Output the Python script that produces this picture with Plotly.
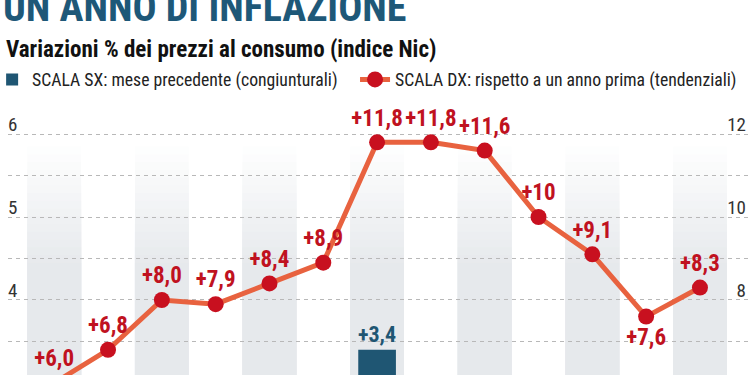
import plotly.graph_objects as go

# ---- data ----
months = ["apr 22", "mag 22", "giu 22", "lug 22", "ago 22", "set 22", "ott 22",
          "nov 22", "dic 22", "gen 23", "feb 23", "mar 23", "apr 23"]
mom_values = [0.2, 0.8, 1.2, 0.4, 0.8, 0.3, 3.4, 0.5, 0.3, -0.2, 0.2, -0.4, 0.4]
yoy_values = [6.0, 6.8, 8.0, 7.9, 8.4, 8.9, 11.8, 11.8, 11.6, 10.0, 9.1, 7.6, 8.3]
yoy_labels = ["+6,0", "+6,8", "+8,0", "+7,9", "+8,4", "+8,9", "+11,8",
              "+11,8", "+11,6", "+10", "+9,1", "+7,6", "+8,3"]
left_ticks = [3, 4, 5, 6]
right_ticks = [6, 8, 10, 12]

TITLE = "UN ANNO DI INFLAZIONE"
SUBTITLE = "Variazioni % dei prezzi al consumo (indice Nic)"
NAME_SX = "SCALA SX: mese precedente (congiunturali)"
NAME_DX = "SCALA DX: rispetto a un anno prima (tendenziali)"

NARROW = "Roboto Condensed, Roboto, sans-serif"
BLUE = "#1f5673"
LINE = "#e8623f"
RED = "#c8101f"
LABEL_RED = "#c0121f"

# the only label drawn under its point (the March 2023 trough)
LABEL_BELOW = {11}


def fmt(v):
    return f"{v:+.1f}".replace(".", ",")


fig = go.Figure()

fig.add_trace(go.Bar(
    x=months, y=mom_values, name=NAME_SX, yaxis="y", legend="legend",
    marker=dict(color=BLUE, line=dict(width=0)), width=0.7,
    text=[fmt(v) for v in mom_values], textposition="outside",
    textfont=dict(family=NARROW, size=22, color=BLUE, weight=700),
    constraintext="none", cliponaxis=True,
))

positions = ["bottom center" if i in LABEL_BELOW else "top center"
             for i in range(len(yoy_values))]
fig.add_trace(go.Scatter(
    x=months, y=yoy_values, name=NAME_DX, yaxis="y2", legend="legend2",
    mode="lines+markers+text",
    line=dict(color=LINE, width=5),
    marker=dict(color=RED, size=16),
    text=yoy_labels, textposition=positions,
    textfont=dict(family=NARROW, size=23, color=LABEL_RED, weight=700),
    cliponaxis=True,
))

# shaded alternate columns with a vertical fade (stepped gradient)
steps = 16
top_v, full_v = 5.85, 4.45
for i in range(0, len(months), 2):
    for k in range(steps):
        f = (k + 1) / steps
        r = round(255 - (255 - 0xe6) * f)
        g = round(255 - (255 - 0xe9) * f)
        b = round(255 - (255 - 0xec) * f)
        y0 = top_v - (top_v - full_v) * k / (steps - 1)
        fig.add_shape(type="rect", xref="x", yref="y",
                      x0=i - 0.5, x1=i + 0.5, y0=y0, y1=-2,
                      fillcolor=f"rgb({r},{g},{b})", line=dict(width=0),
                      layer="below")

legend_style = dict(orientation="h", xanchor="left", y=1.073, yanchor="middle",
                    font=dict(family=NARROW, size=17.7, color="#222"),
                    bgcolor="rgba(0,0,0,0)", itemclick=False, itemdoubleclick=False)

y_top, y_bot = 6.4096, 3.0963
fig.update_layout(
    width=750, height=375,
    margin=dict(l=8, r=0, t=100, b=0, autoexpand=False),
    paper_bgcolor="white", plot_bgcolor="white",
    showlegend=True,
    legend=dict(x=-0.0214, **legend_style),
    legend2=dict(x=0.4677, **legend_style),
    xaxis=dict(type="category", range=[-0.859, 12.93], showticklabels=False,
               showgrid=False, zeroline=False, showline=False, ticks="",
               automargin=False),
    yaxis=dict(range=[y_bot, y_top], tickvals=left_ticks, ticklabelposition="inside top",
               tickfont=dict(family=NARROW, size=19, color="#333"),
               ticklabelstandoff=-3, ticklabelshift=4, automargin=False,
               showgrid=True, gridcolor="#b8b8b8", griddash="4px,4px", gridwidth=1,
               minor=dict(dtick=0.5, showgrid=True, gridcolor="#b8b8b8",
                          griddash="4px,4px", gridwidth=1, tick0=0),
               zeroline=False, showline=False, ticks=""),
    yaxis2=dict(range=[2 * y_bot, 2 * y_top], tickvals=right_ticks, overlaying="y",
                side="right", ticklabelposition="inside top",
                tickfont=dict(family=NARROW, size=19, color="#333"),
                ticklabelstandoff=1, ticklabelshift=4, automargin=False,
                showgrid=False, zeroline=False, showline=False, ticks=""),
    annotations=[
        dict(text=f"<b>{TITLE}</b>", xref="paper", yref="paper", x=-0.010, y=1.335,
             xanchor="left", yanchor="middle", showarrow=False,
             font=dict(family=NARROW, size=40, color="#1e5878")),
        dict(text=f"<b>{SUBTITLE}</b>", xref="paper", yref="paper", x=-0.0054, y=1.185,
             xanchor="left", yanchor="middle", showarrow=False,
             font=dict(family=NARROW, size=23, color="#111")),
    ],
)

fig.write_html("out.html", config={"displayModeBar": False},
               post_script="document.body.style.margin='0';")
